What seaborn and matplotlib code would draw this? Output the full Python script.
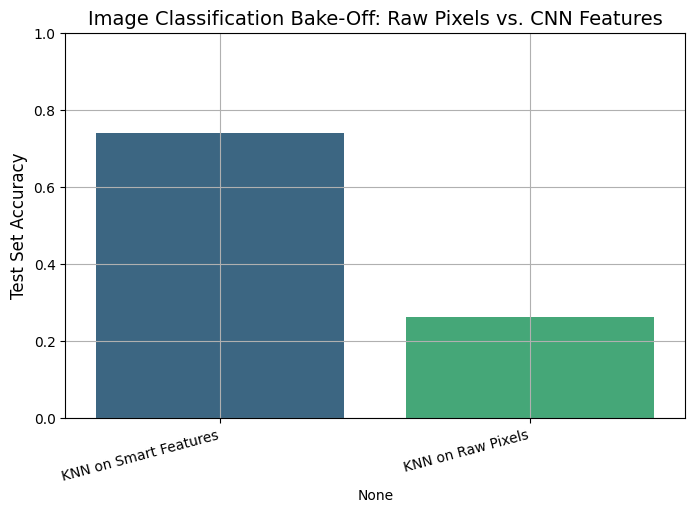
import pandas as pd
import numpy as np
import matplotlib
matplotlib.use('Agg')
import matplotlib.pyplot as plt
import seaborn as sns

models = ['KNN on Smart Features', 'KNN on Raw Pixels']
accuracy = [0.74, 0.263]

df = pd.DataFrame({'model': models, 'accuracy': accuracy})

plt.figure(figsize=(8, 5))
ax = sns.barplot(data=df, x='model', y='accuracy', hue='model', palette='viridis', legend=False)
plt.title('Image Classification Bake-Off: Raw Pixels vs. CNN Features', fontsize=14)
plt.ylabel('Test Set Accuracy', fontsize=12)
plt.xlabel('None')
plt.ylim(0, 1)
plt.xticks(rotation=15, ha='right')
plt.grid(True)
plt.savefig('out.png', dpi=100, bbox_inches='tight')
